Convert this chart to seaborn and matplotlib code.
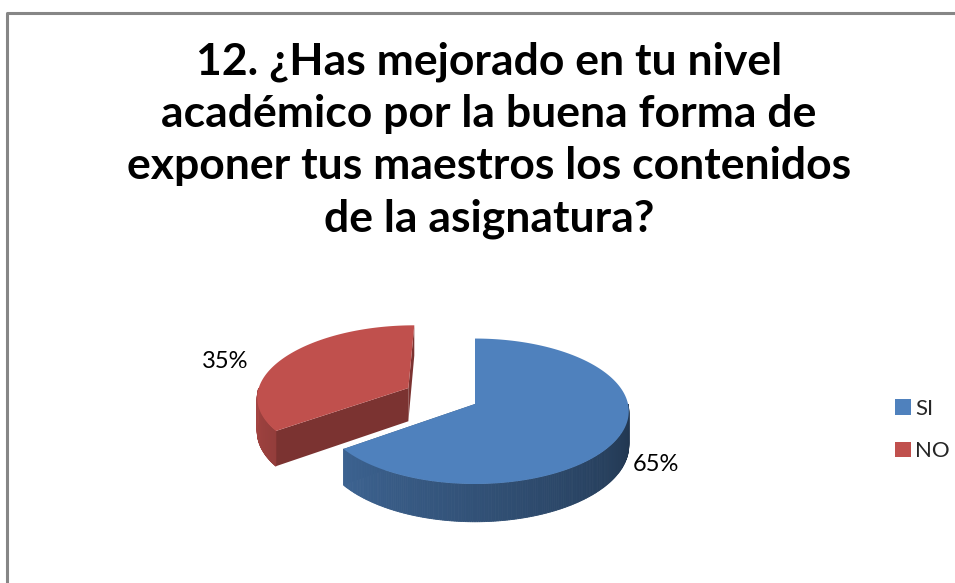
import matplotlib
matplotlib.use("Agg")
import matplotlib.pyplot as plt
from matplotlib.patches import Polygon, Patch
import numpy as np
import seaborn as sns

sns.set_theme(style="white")
plt.rcParams["font.family"] = ["Lato", "DejaVu Sans"]

# Data
categories = ["SI", "NO"]
values = [65, 35]
colors = ["#4F81BD", "#C0504D"]
explode = [0.0, 0.5]
title = ("12. ¿Has mejorado en tu nivel\nacadémico por la buena forma de\n"
         "exponer tus maestros los contenidos\nde la asignatura?")

# 3D pie geometry (pixel space)
CX, CY = 475, 404       # projected pie centre
A, B = 153, 72          # radii on screen
DEPTH = 34
PERSP = 0.10            # back of pie appears smaller than the front
START = 90.0


def project(u, v, persp=PERSP):
    """Map a point of the pie plane (unit radius, v>0 = back) to the screen."""
    k = 1.0 / (1.0 + persp * v)
    return CX + A * u * k, CY - B * v * k, DEPTH * k


def shade(color, s):
    rgb = np.array(matplotlib.colors.to_rgb(color))
    return tuple(np.clip(rgb * s, 0, 1))


fig = plt.figure(figsize=(9.55, 5.83), dpi=100)
ax = fig.add_axes([0, 0, 1, 1])
ax.set_xlim(0, 955)
ax.set_ylim(583, 0)
ax.axis("off")

# chart frame
ax.plot([7, 7, 955], [583, 13, 13], color="#868686", lw=2.2, solid_capstyle="butt")

total = sum(values)
angles = []
t = START
for v in values:
    span = 360.0 * v / total
    angles.append((t, t - span))
    t -= span

# draw the exploded (back) slice first
order = sorted(range(len(values)), key=lambda i: -explode[i])
for i in order:
    t0, t1 = np.radians(angles[i][0]), np.radians(angles[i][1])
    mid = (t0 + t1) / 2
    ou, ov = explode[i] * np.cos(mid), explode[i] * np.sin(mid)
    col = colors[i]
    ts = np.linspace(t0, t1, 300)
    xs, ys, ds = project(ou + np.cos(ts), ov + np.sin(ts))
    cx, cy, cd = project(ou, ov)

    # radial cut faces
    for te in (t0, t1):
        ex, ey, ed = project(ou + np.cos(te), ov + np.sin(te))
        face = [(cx, cy), (ex, ey), (ex, ey + ed), (cx, cy + cd)]
        ax.add_patch(Polygon(face, closed=True, fc=shade(col, 0.64), ec="none"))

    # outer wall (front half only), shaded from left to right
    for k in range(len(ts) - 1):
        tm = (ts[k] + ts[k + 1]) / 2
        if np.sin(tm) >= 0:
            continue
        deg = np.degrees(tm) % 360
        s = 0.86 - 0.46 * (deg - 180) / 180
        quad = [(xs[k], ys[k]), (xs[k + 1], ys[k + 1]),
                (xs[k + 1], ys[k + 1] + ds[k + 1]), (xs[k], ys[k] + ds[k])]
        ax.add_patch(Polygon(quad, closed=True, fc=shade(col, s), ec=shade(col, s), lw=0.6))

    # top face
    top = [(cx, cy)] + list(zip(xs, ys))
    ax.add_patch(Polygon(top, closed=True, fc=col, ec="none"))

    # percentage label, outside end
    lx, ly, _ = project(ou + 1.33 * np.cos(mid), ov + 1.33 * np.sin(mid), persp=0.0)
    ax.text(lx, ly + 17, f"{values[i] / total:.0%}", ha="center", va="center",
            fontsize=17, color="#000000")

ax.text(489, 42, title, ha="center", va="top", fontsize=32,
        fontweight="bold", linespacing=1.36, color="#000000")

handles = [Patch(fc=c, ec="none") for c in colors]
fig.legend(handles, categories, loc="center left",
           bbox_to_anchor=(884 / 955, 1 - 430 / 583), frameon=False,
           fontsize=16, handlelength=0.7, handleheight=0.7,
           handletextpad=0.2, labelspacing=1.0, borderpad=0)

fig.savefig("out.png", dpi=100)
